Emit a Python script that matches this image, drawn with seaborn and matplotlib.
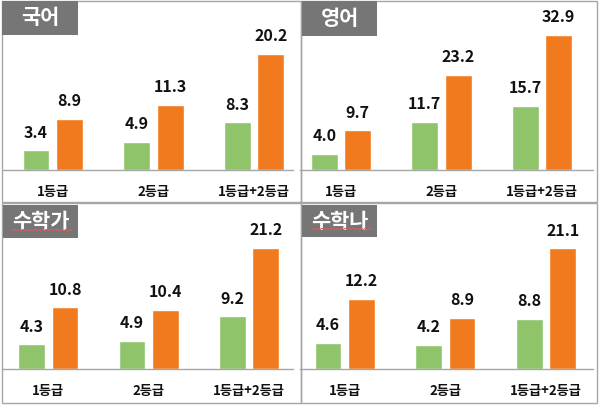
import numpy as np
import pandas as pd
import matplotlib
matplotlib.use("Agg")
import matplotlib.pyplot as plt
from matplotlib.patches import Rectangle
from matplotlib.lines import Line2D
import seaborn as sns

# ---------------- data ----------------
subjects = ["국어", "영어", "수학가", "수학나"]
categories = ["1등급", "2등급", "1등급+2등급"]
series_names = ["green", "orange"]
korean_green = [3.4, 4.9, 8.3]
korean_orange = [8.9, 11.3, 20.2]
english_green = [4.0, 11.7, 15.7]
english_orange = [9.7, 23.2, 32.9]
matha_green = [4.3, 4.9, 9.2]
matha_orange = [10.8, 10.4, 21.2]
mathb_green = [4.6, 4.2, 8.8]
mathb_orange = [12.2, 8.9, 21.1]
y_max = [25, 35, 25, 25]

values = [
    (korean_green, korean_orange),
    (english_green, english_orange),
    (matha_green, matha_orange),
    (mathb_green, mathb_orange),
]

# ---------------- style ----------------
sns.set_theme(style="white")
FONT = ["Noto Sans CJK KR", "DejaVu Sans"]
plt.rcParams["font.family"] = FONT

W, H = 600, 405
fig = plt.figure(figsize=(W / 100, H / 100), dpi=100)
fig.patch.set_facecolor("white")

GREEN = "#8FC46A"
ORANGE = "#F27A1E"
BORDER = "#A6A6A6"
BOX = "#767676"

# layout in pixels (left, right, baseline, top, first centre, spacing, frame, title box)
layout = [
    dict(l=3, r=293, base=170, top=26.5, c0=52.8, sp=100.6, frame=(2, 1, 301, 202), box=(2, 1, 78, 35)),
    dict(l=300, r=593, base=170, top=26.5, c0=341.0, sp=100.5, frame=(301, 1, 597, 202), box=(302, 1, 377, 36)),
    dict(l=2, r=293, base=369, top=226, c0=48.3, sp=100.4, frame=(2, 203, 301, 403), box=(3, 205, 78, 238)),
    dict(l=300, r=593, base=369, top=226, c0=344.7, sp=100.6, frame=(301, 203, 597, 403), box=(302, 205, 377, 237)),
]


def fx(x):
    return x / W


def fy(y):
    return 1 - y / H


for i, (subj, (g, o), lay) in enumerate(zip(subjects, values, layout)):
    # panel frame
    x0, y0, x1, y1 = lay["frame"]
    fig.add_artist(Rectangle((fx(x0), fy(y1)), fx(x1) - fx(x0), fy(y0) - fy(y1),
                             transform=fig.transFigure, fill=False,
                             edgecolor=BORDER, linewidth=1.0, zorder=0))

    ax = fig.add_axes([fx(lay["l"]), fy(lay["base"]), fx(lay["r"]) - fx(lay["l"]),
                       (lay["base"] - lay["top"]) / H])
    df = pd.DataFrame({
        "cat": categories * 2,
        "series": [series_names[0]] * 3 + [series_names[1]] * 3,
        "val": list(g) + list(o),
    })
    sns.barplot(data=df, x="cat", y="val", hue="series", order=categories,
                hue_order=series_names, palette=[GREEN, ORANGE],
                width=0.667, gap=0.2, legend=False, ax=ax, saturation=1)
    ax.set_ylim(0, y_max[i])
    left = (lay["l"] - lay["c0"]) / lay["sp"]
    right = (lay["r"] - lay["c0"]) / lay["sp"]
    ax.set_xlim(left, right)
    ax.set_facecolor("none")
    for s in ["top", "left", "right"]:
        ax.spines[s].set_visible(False)
    ax.spines["bottom"].set_color(BORDER)
    ax.spines["bottom"].set_linewidth(1.0)
    ax.set_yticks([])
    ax.set_xlabel("")
    ax.set_ylabel("")
    ax.tick_params(axis="x", length=0, pad=11)
    for lab in ax.get_xticklabels():
        lab.set_fontsize(9.5)
        lab.set_fontweight("bold")
        lab.set_color("#111111")
    for cont in ax.containers:
        ax.bar_label(cont, fmt="%.1f", padding=7, fontsize=11.5,
                     fontweight="bold", color="#111111")

    # title box
    bx0, by0, bx1, by1 = lay["box"]
    fig.add_artist(Rectangle((fx(bx0), fy(by1)), fx(bx1) - fx(bx0), fy(by0) - fy(by1),
                             transform=fig.transFigure, facecolor=BOX,
                             edgecolor="none", zorder=3))
    fig.text(fx((bx0 + bx1) / 2), fy((by0 + by1) / 2), subj, color="white",
             fontsize=15, fontweight="bold", ha="center", va="center",
             zorder=4, family=FONT)
    if i >= 2:
        # red spell-check squiggle under the title
        xs = np.linspace(bx0 + 9, bx1 - 6, 60)
        ys = by1 - 8 + 0.8 * np.sin((xs - xs[0]) * 1.6)
        fig.add_artist(Line2D(fx(xs), fy(ys), transform=fig.transFigure,
                              color="#E05A5A", linewidth=0.7, zorder=5))

fig.savefig("out.png", dpi=100, facecolor="white")
